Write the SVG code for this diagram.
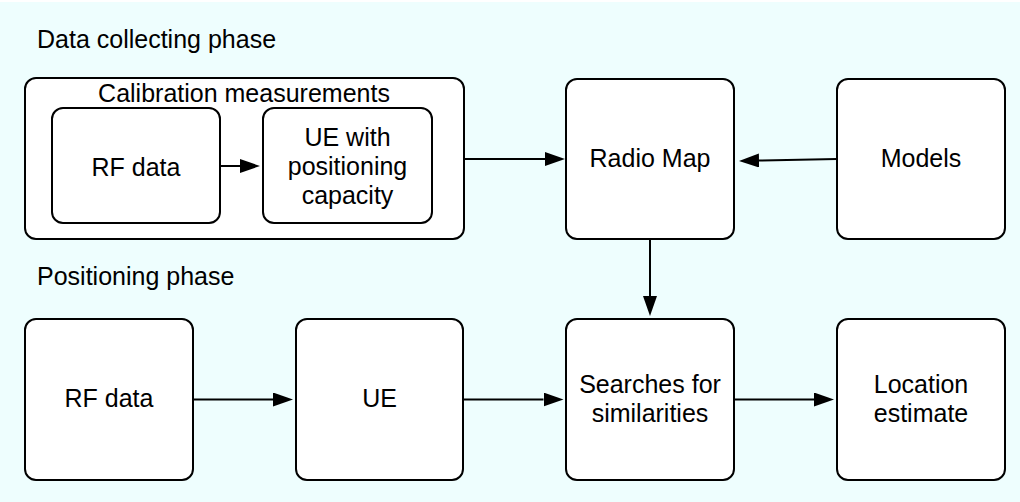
<svg xmlns="http://www.w3.org/2000/svg" width="1020" height="502" viewBox="0 0 1020 502">
  <style>
    .box { fill: #ffffff; stroke: #000000; stroke-width: 2; }
    .frame { fill: #ffffff; stroke: #000000; stroke-width: 2; }
    .lbl { font-family: "Liberation Sans", Arial, Helvetica, sans-serif; font-size: 25px; fill: #000000; }
    .mid { text-anchor: middle; }
    .wire { fill: none; stroke: #000000; stroke-width: 2; marker-end: url(#head); }
  </style>
  <defs>
    <marker id="head" markerUnits="userSpaceOnUse" markerWidth="21" markerHeight="15" refX="0" refY="7" orient="auto">
      <path d="M0,0 L20,7 L0,14 Z" fill="#000000"/>
    </marker>
  </defs>

  <!-- backdrop -->
  <rect x="0" y="0" width="1020" height="502" fill="#ffffff"/>
  <rect x="0" y="2" width="1020" height="500" fill="#eefefe"/>

  <!-- phase captions -->
  <text class="lbl" x="37" y="48">Data collecting phase</text>
  <text class="lbl" x="37" y="285">Positioning phase</text>

  <!-- data collecting phase -->
  <g id="calibration">
    <rect class="frame" x="25" y="78" width="439" height="161" rx="11"/>
    <text class="lbl mid" x="244" y="102">Calibration measurements</text>
  </g>
  <g id="rf-data-cal">
    <rect class="box" x="52" y="108" width="168" height="115" rx="11"/>
    <text class="lbl mid" x="136" y="176">RF data</text>
  </g>
  <g id="ue-positioning">
    <rect class="box" x="263" y="108" width="169" height="115" rx="11"/>
    <text class="lbl mid" x="347.5" y="146">UE with</text>
    <text class="lbl mid" x="347.5" y="175">positioning</text>
    <text class="lbl mid" x="347.5" y="204">capacity</text>
  </g>
  <g id="radio-map">
    <rect class="box" x="566" y="79" width="168" height="160" rx="11"/>
    <text class="lbl mid" x="650" y="167">Radio Map</text>
  </g>
  <g id="models">
    <rect class="box" x="837" y="79" width="168" height="160" rx="11"/>
    <text class="lbl mid" x="921" y="167">Models</text>
  </g>

  <!-- positioning phase -->
  <g id="rf-data">
    <rect class="box" x="25" y="319" width="168" height="161" rx="11"/>
    <text class="lbl mid" x="109" y="407">RF data</text>
  </g>
  <g id="ue">
    <rect class="box" x="296" y="319" width="167" height="161" rx="11"/>
    <text class="lbl mid" x="379.5" y="407">UE</text>
  </g>
  <g id="searches">
    <rect class="box" x="566" y="319" width="168" height="161" rx="11"/>
    <text class="lbl mid" x="650" y="393">Searches for</text>
    <text class="lbl mid" x="650" y="422">similarities</text>
  </g>
  <g id="location">
    <rect class="box" x="837" y="319" width="168" height="161" rx="11"/>
    <text class="lbl mid" x="921" y="393">Location</text>
    <text class="lbl mid" x="921" y="422">estimate</text>
  </g>

  <!-- connectors: lines stop at the arrowhead base, marker adds 20px -->
  <g id="connectors">
    <line class="wire" x1="220" y1="166" x2="240" y2="166"/>
    <line class="wire" x1="464" y1="159" x2="545" y2="159"/>
    <line class="wire" x1="837" y1="159" x2="759" y2="160.5"/>
    <line class="wire" x1="650" y1="239" x2="650" y2="296"/>
    <line class="wire" x1="193" y1="399.5" x2="273" y2="399.5"/>
    <line class="wire" x1="463" y1="399.5" x2="543.5" y2="399.5"/>
    <line class="wire" x1="734" y1="399.5" x2="814" y2="399.5"/>
  </g>
</svg>
